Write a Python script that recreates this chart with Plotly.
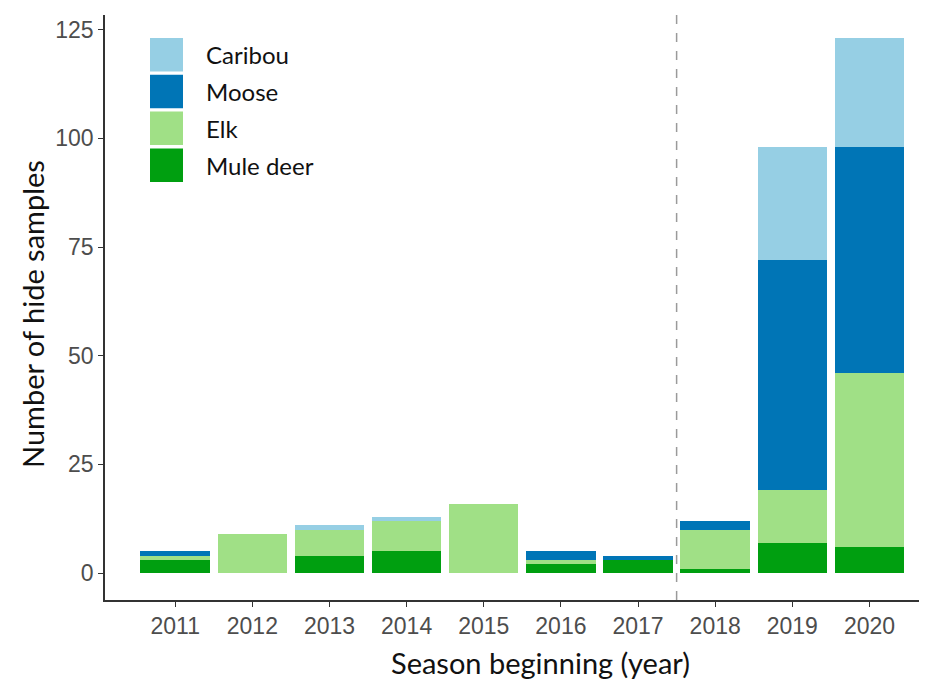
import plotly.graph_objects as go

years = ["2011", "2012", "2013", "2014", "2015", "2016", "2017", "2018", "2019", "2020"]
mule_deer = [3, 0, 4, 5, 0, 2, 3, 1, 7, 6]
elk = [1, 9, 6, 7, 16, 1, 0, 9, 12, 40]
moose = [1, 0, 0, 0, 0, 2, 1, 2, 53, 52]
caribou = [0, 0, 1, 1, 0, 0, 0, 0, 26, 25]

series = [
    ("Mule deer", mule_deer, "#009f10"),
    ("Elk", elk, "#a0e086"),
    ("Moose", moose, "#0075b6"),
    ("Caribou", caribou, "#96cfe4"),
]

OFF = 8  # page body margin
W, H = 927, 686
L, T = 105 - OFF, 15 - OFF
pw, ph = 820, 585
R = W - L - pw
B = H - T - ph

def px_x(px):
    return (px - OFF - L) / pw

def px_y(py):
    return (T + ph - (py - OFF)) / ph

fig = go.Figure()
for name, vals, col in series:
    fig.add_trace(go.Bar(x=years, y=vals, name=name, marker=dict(color=col, line=dict(width=0)),
                         width=0.9, showlegend=False))

shapes = [
    dict(type="line", xref="x", yref="paper", x0=6.5, x1=6.5, y0=0, y1=1,
         line=dict(color="#9a9a9a", width=1.5, dash="dash")),
]
annotations = []

legend_items = [("Caribou", "#96cfe4"), ("Moose", "#0075b6"), ("Elk", "#a0e086"), ("Mule deer", "#009f10")]
top = 38
size = 33.5
gap = 3.3
for i, (name, col) in enumerate(legend_items):
    y0 = top + i * (size + gap)
    shapes.append(dict(type="rect", xref="paper", yref="paper",
                       x0=px_x(150), x1=px_x(183), y0=px_y(y0 + size), y1=px_y(y0),
                       fillcolor=col, line=dict(width=0)))
    annotations.append(dict(text=name, xref="paper", yref="paper", x=px_x(204), y=px_y(y0 + size / 2),
                            xanchor="left", yanchor="middle", showarrow=False,
                            font=dict(family="Lato", size=24, color="#111111")))

annotations.append(dict(text="Season beginning (year)", xref="paper", yref="paper",
                        x=px_x(540), y=px_y(662), xanchor="center", yanchor="middle", showarrow=False,
                        font=dict(family="Lato", size=29, color="#111111")))
annotations.append(dict(text="Number of hide samples", xref="paper", yref="paper",
                        x=px_x(32), y=px_y(314), xanchor="center", yanchor="middle", showarrow=False,
                        textangle=-90, font=dict(family="Lato", size=29, color="#111111")))

fig.update_layout(
    width=W, height=H,
    margin=dict(l=L, r=R, t=T, b=B),
    barmode="stack",
    plot_bgcolor="white", paper_bgcolor="white",
    shapes=shapes, annotations=annotations,
    xaxis=dict(type="category", range=[-0.91, 9.72], showgrid=False, zeroline=False,
               showline=True, linecolor="#333333", linewidth=1.5,
               ticks="outside", ticklen=5, tickcolor="#333333", tickwidth=1.2,
               tickfont=dict(family="Liberation Sans", size=23, color="#4d4d4d")),
    yaxis=dict(range=[-6.2, 128.4], tickvals=[0, 25, 50, 75, 100, 125], showgrid=False, zeroline=False,
               showline=True, linecolor="#333333", linewidth=1.5,
               ticks="outside", ticklen=5, tickcolor="#333333", tickwidth=1.2,
               tickfont=dict(family="Liberation Sans", size=23, color="#4d4d4d")),
)

fig.write_html("out.html")
